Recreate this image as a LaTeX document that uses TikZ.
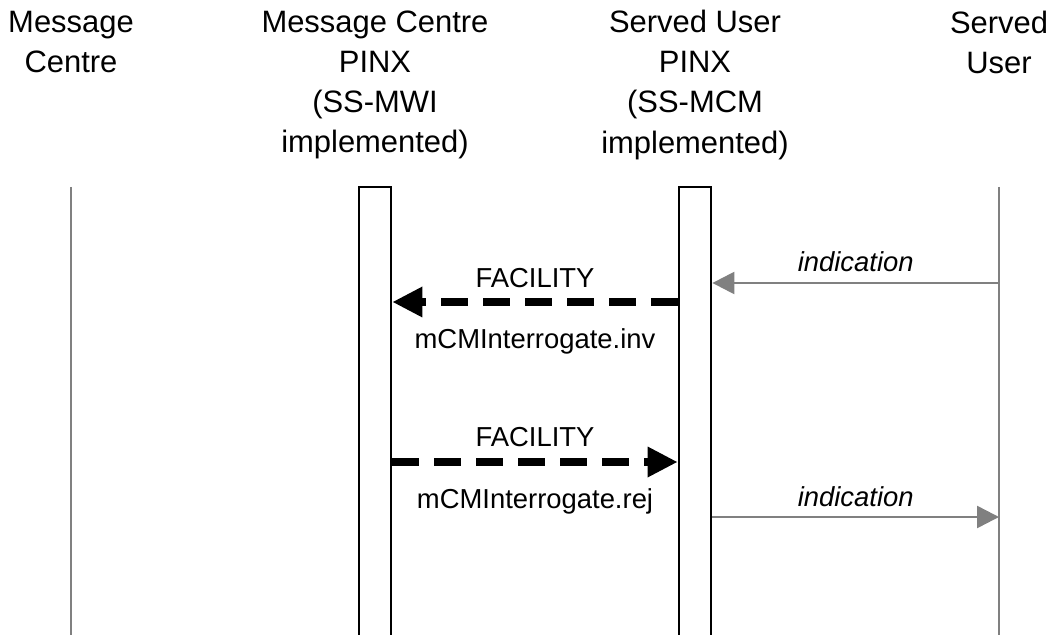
\documentclass[tikz,border=0pt]{standalone}
\usepackage{fontspec}
\setmainfont{Liberation Sans}
\usetikzlibrary{arrows.meta,positioning}

\begin{document}
\begin{tikzpicture}[x=0.025cm,y=-0.025cm]
  \tikzstyle{header}=[align=center,inner sep=0pt,font=\fontsize{22}{28.45}\selectfont]
  \tikzstyle{pinx}=[draw=black,line width=2pt,fill=white,minimum width=0.8cm,minimum height=11.325cm,inner sep=0pt]
  \tikzstyle{lifeline}=[draw=gray,line width=1.5pt]
  \tikzstyle{facility}=[line width=5pt,dash pattern=on 0.675cm off 0.375cm,-{Triangle[length=0.75cm,width=0.72cm]}]
  \tikzstyle{indication}=[draw=gray,line width=1.8pt,-{Triangle[length=0.55cm,width=0.55cm]}]
  \tikzstyle{msg}=[inner sep=0pt,font=\fontsize{19.5}{23}\selectfont]
  \useasboundingbox (0,0) rectangle (1056,635);

  % entities
  \foreach \name/\x/\y/\text in {mc/71/42.5/{Message\\Centre},
      mcp/375/85/{Message Centre\\PINX\\(SS-MWI\\implemented)},
      sup/695/85/{Served User\\PINX\\(SS-MCM\\implemented)},
      su/999/42.5/{Served\\User}}
    \node[header] (H-\name) at (\x,\y) {\text};

  % lifelines and PINX boxes
  \coordinate (mc-top) at (71,187);
  \coordinate (mc-bot) at (71,640);
  \coordinate (su-top) at (999,187);
  \coordinate (su-bot) at (999,640);
  \draw[lifeline] (mc-top) -- (mc-bot);
  \draw[lifeline] (su-top) -- (su-bot);
  \node[pinx] (mcp) at (375,413.5) {};
  \node[pinx] (sup) at (695,413.5) {};

  % message levels
  \coordinate (m1) at (0,283);
  \coordinate (m2) at (0,302);
  \coordinate (m3) at (0,462);
  \coordinate (m4) at (0,517);

  \draw[indication] (su-top |- m1) -- node[msg,midway,yshift=0.52cm] {\itshape indication} (sup.east |- m1);
  \draw[facility] (sup.west |- m2) -- node[msg,midway,yshift=0.6cm] {FACILITY}
    node[msg,midway,yshift=-0.98cm] {mCMInterrogate.inv} (mcp.east |- m2);
  \draw[facility] (mcp.east |- m3) -- node[msg,midway,yshift=0.62cm] {FACILITY}
    node[msg,midway,yshift=-0.98cm] {mCMInterrogate.rej} (sup.west |- m3);
  \draw[indication] (sup.east |- m4) -- node[msg,midway,yshift=0.5cm] {\itshape indication} (su-top |- m4);
\end{tikzpicture}
\end{document}
